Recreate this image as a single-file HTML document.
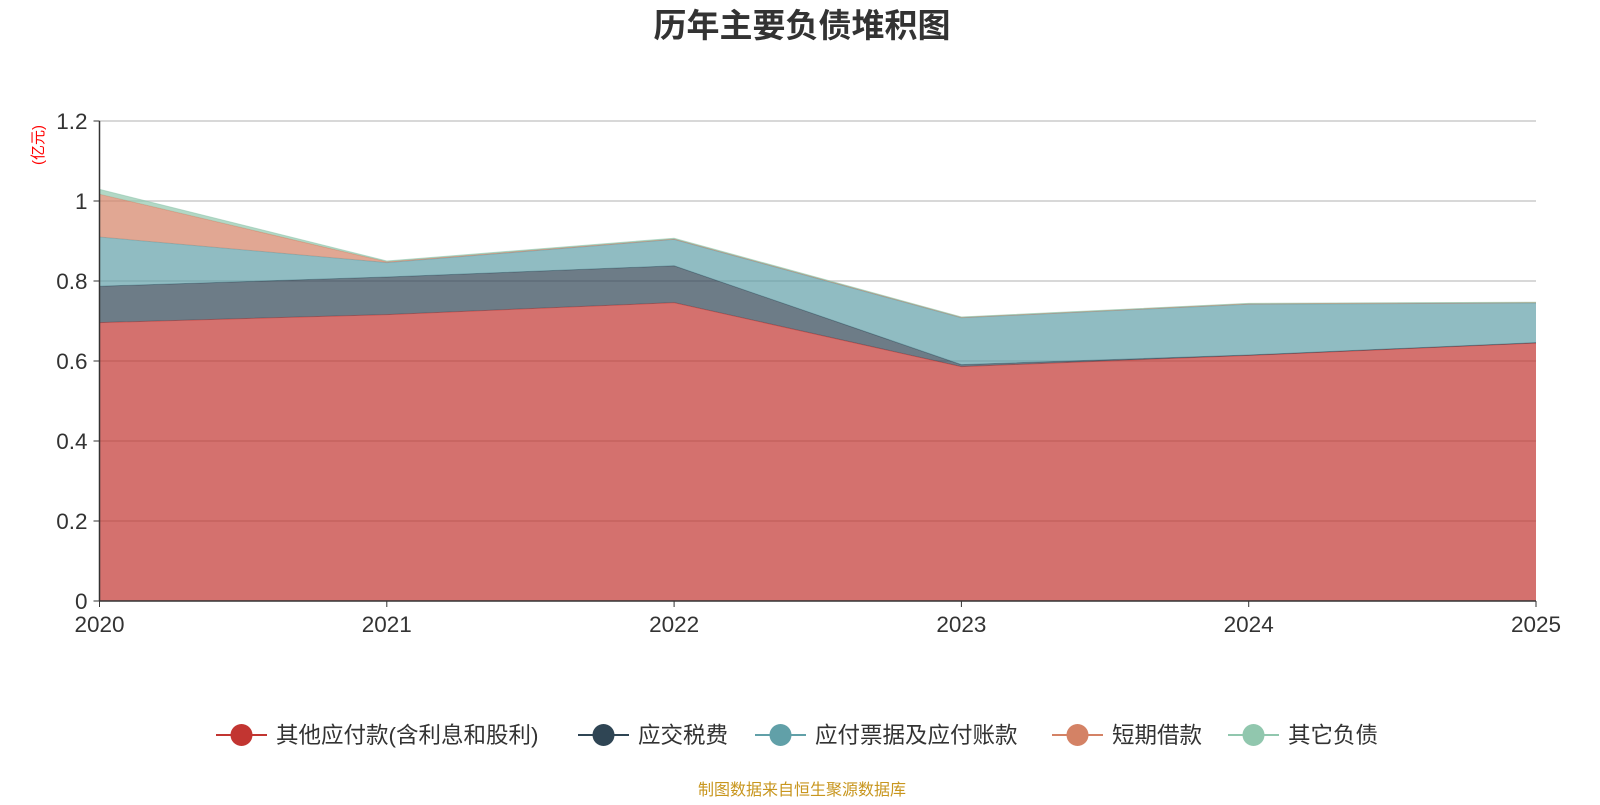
<!DOCTYPE html>
<html><head><meta charset="utf-8"><style>
body{margin:0;background:#fff;font-family:"Liberation Sans","Noto Sans CJK SC",sans-serif;}
</style></head><body>
<svg id="chart" width="1600" height="800" xmlns="http://www.w3.org/2000/svg" font-family="Liberation Sans, Noto Sans CJK SC, sans-serif">
<text x="802" y="37" text-anchor="middle" font-size="33" font-weight="bold" fill="#333">历年主要负债堆积图</text>
<text transform="translate(43,145) rotate(-90)" text-anchor="middle" font-size="15" fill="#ff0000">(亿元)</text>
<g id="grid"></g><g id="areas"></g><g id="axes"></g>
<g id="legend"></g>
<text x="802" y="795" text-anchor="middle" font-size="16" fill="#c8961e">制图数据来自恒生聚源数据库</text>
</svg>
<script>
const years=["2020","2021","2022","2023","2024","2025"];
const seriesNames=["其他应付款(含利息和股利)","应交税费","应付票据及应付账款","短期借款","其它负债"];
const s1=[0.696,0.716,0.746,0.586,0.614,0.645];
const s2=[0.091,0.094,0.092,0.005,0.001,0.001];
const s3=[0.123,0.036,0.066,0.117,0.127,0.099];
const s4=[0.107,0.002,0.001,0.001,0.001,0.001];
const s5=[0.012,0.002,0.002,0.001,0.001,0.001];
const yTicks=["0","0.2","0.4","0.6","0.8","1","1.2"];
const colors=["#c23531","#2f4554","#61a0a8","#d48265","#91c7ae"];
const NS="http://www.w3.org/2000/svg";
const x0=99.5,x1=1536,y0=601,y1=121,yMax=1.2;
const X=i=>x0+(x1-x0)*i/(years.length-1);
const Y=v=>y0-(y0-y1)*v/yMax;
function mk(t,a,p){const e=document.createElementNS(NS,t);for(const k in a)e.setAttribute(k,a[k]);p.appendChild(e);return e;}
const grid=document.getElementById('grid'),axes=document.getElementById('axes'),areas=document.getElementById('areas');
yTicks.forEach(t=>{const y=Y(parseFloat(t));
 if(parseFloat(t)>0){const l=mk('line',{x1:x0,x2:x1,y1:y,y2:y,stroke:'#ccc','stroke-width':1.5},grid);
 
 }
 const tk=mk('line',{x1:x0-6,x2:x0,y1:y,y2:y,stroke:'#333'},axes);
 
 
 const tx=mk('text',{x:x0-12,y:y+8,'text-anchor':'end','font-size':22.5,fill:'#333'},axes);tx.textContent=t;
 
 
});
const all=[s1,s2,s3,s4,s5];let base=years.map(()=>0);
all.forEach((s,k)=>{const top=base.map((b,i)=>b+s[i]);
 let d='M'+years.map((_,i)=>X(i)+','+Y(top[i])).join('L');
 for(let i=years.length-1;i>=0;i--)d+='L'+X(i)+','+Y(base[i]);d+='Z';
 const p=mk('path',{d:d,fill:colors[k],'fill-opacity':0.7,stroke:'none'},areas);
 
 
 const ln=mk('polyline',{points:years.map((_,i)=>X(i)+','+Y(top[i])).join(' '),fill:'none',stroke:colors[k],'stroke-width':1,'stroke-opacity':0.6},areas);
 
 
 base=top;});
const ya=mk('line',{x1:x0,x2:x0,y1:y1,y2:y0,stroke:'#333','stroke-width':1.5},axes);


const xa=mk('line',{x1:x0,x2:x1,y1:y0,y2:y0,stroke:'#333','stroke-width':1.5},axes);


years.forEach((yr,i)=>{const t=mk('line',{x1:X(i),x2:X(i),y1:y0,y2:y0+6,stroke:'#333'},axes);
 
 
 const tx=mk('text',{x:X(i),y:y0+31,'text-anchor':'middle','font-size':22.5,fill:'#333'},axes);tx.textContent=yr;
 
 });
const leg=document.getElementById('legend');
const lx=[216,578,755,1052,1228];
seriesNames.forEach((n,k)=>{const g=mk('g',{},leg);
 
 
 mk('line',{x1:lx[k],x2:lx[k]+51,y1:735,y2:735,stroke:colors[k],'stroke-width':2},g);
 mk('circle',{cx:lx[k]+25.5,cy:735,r:11,fill:colors[k]},g);
 const t=mk('text',{x:lx[k]+60,y:743,'font-size':22.5,fill:'#333'},g);t.textContent=n;});
</script>
</body></html>
